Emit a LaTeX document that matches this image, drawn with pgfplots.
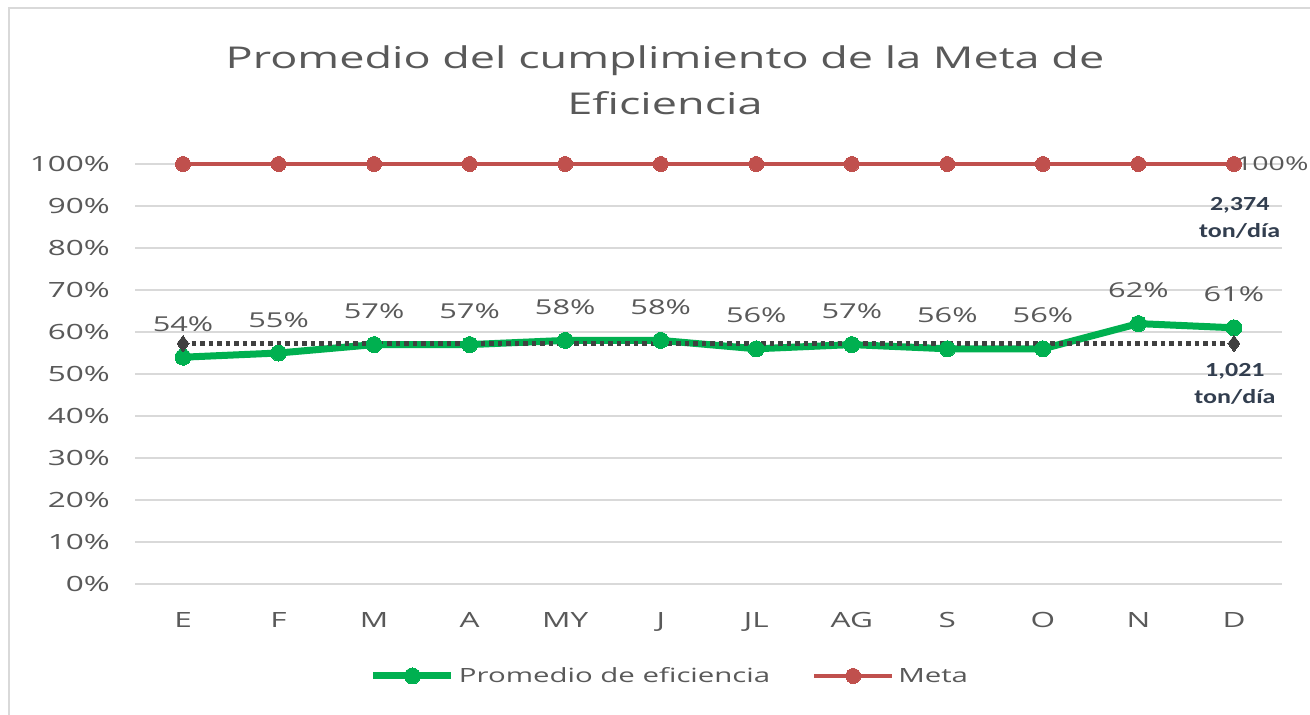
\documentclass[border=0pt]{standalone}
\usepackage{pgfplots}
\pgfplotsset{compat=1.18}
\usepackage{fontspec}
\setmainfont{Open Sans}[FakeStretch=1.5]
\newfontfamily\annfont{Carlito}[FakeStretch=1.3]
\definecolor{txt}{HTML}{595959}
\definecolor{grn}{HTML}{00B050}
\definecolor{rd}{HTML}{C0504D}
\definecolor{grd}{HTML}{D9D9D9}
\definecolor{dots}{HTML}{404040}
\definecolor{ann}{HTML}{323E4F}
\begin{document}
\begin{tikzpicture}
\useasboundingbox (0pt,0pt) rectangle (1310pt,-715pt);
\fill[white] (0pt,0pt) rectangle (1310pt,-715pt);
\draw[grd, line width=2pt] (9pt,-715pt) -- (9pt,-7.5pt) -- (1310pt,-7.5pt);
\node[txt, align=center, font=\fontsize{30}{46}\selectfont] at (665pt,-80pt) {Promedio del cumplimiento de la Meta de\\Eficiencia};
\begin{axis}[
  at={(135.25pt,-584pt)}, anchor=south west,
  scale only axis, width=1146.5pt, height=420pt,
  xmin=-0.5, xmax=11.5, ymin=0, ymax=100,
  clip=false,
  /pgf/number format/assume math mode=true,
  xtick={0,...,11},
  xticklabels={E,F,M,A,MY,J,JL,AG,S,O,N,D},
  ytick={0,10,...,100},
  yticklabels={0\%,10\%,20\%,30\%,40\%,50\%,60\%,70\%,80\%,90\%,100\%},
  ymajorgrids,
  major grid style={draw=grd, line width=1.5pt},
  axis line style={draw=none},
  tick style={draw=none},
  ticklabel style={font=\fontsize{21}{24}\selectfont, text=txt},
  xticklabel style={yshift=-25pt},
  yticklabel style={xshift=-22pt},
  legend style={at={(0.4664,-0.219)}, anchor=center, draw=none, fill=none,
    legend columns=2, font=\fontsize{19.6}{24}\selectfont, text=txt,
    /tikz/every odd column/.append style={column sep=2pt},
    /tikz/every even column/.append style={column sep=40pt}},
  legend image code/.code={
    \draw[mark repeat=2,mark phase=2,#1] plot coordinates {(0pt,0pt) (39pt,0pt) (78pt,0pt)};
  },
]
\addplot[grn, line width=7pt, mark=*, mark size=8pt, mark options={line width=0pt},
  nodes near coords={\pgfmathprintnumber{\pgfplotspointmeta}\%},
  every node near coord/.append style={anchor=base, yshift=26pt, text=txt, font=\fontsize{20.5}{24}\selectfont}]
  coordinates {(0,54) (1,55) (2,57) (3,57) (4,58) (5,58) (6,56) (7,57) (8,56) (9,56) (10,62) (11,61)};
\addlegendentry{Promedio de eficiencia}
\addplot[rd, line width=4pt, mark=*, mark size=7.5pt, mark options={line width=0pt}]
  coordinates {(0,100) (1,100) (2,100) (3,100) (4,100) (5,100) (6,100) (7,100) (8,100) (9,100) (10,100) (11,100)};
\addlegendentry{Meta}
\addplot[dots, line width=4.5pt, dash pattern=on 4.5pt off 4pt, mark=diamond*, mark size=8pt, mark options={solid, line width=0pt}, forget plot]
  coordinates {(0,57.25) (11,57.25)};
\node[anchor=west, text=txt, font=\fontsize{19}{24}\selectfont, inner sep=0pt] at (axis cs:11.02,100) {100\%};
\node[align=center, text=ann, font=\annfont\bfseries\fontsize{20}{27}\selectfont] at (axis cs:11.06,87.2) {2,374\\ton/día};
\node[align=center, text=ann, font=\annfont\bfseries\fontsize{20}{27}\selectfont] at (axis cs:11.01,47.6) {1,021\\ton/día};
\end{axis}
\end{tikzpicture}
\end{document}
